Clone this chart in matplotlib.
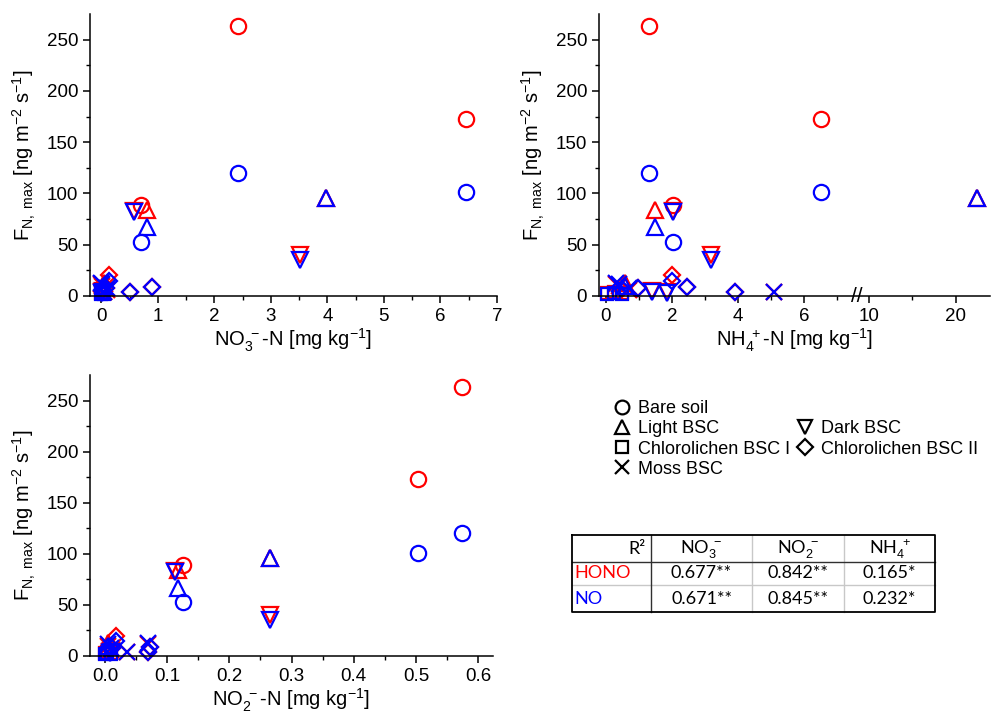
import numpy as np
import matplotlib
matplotlib.use("Agg")
from matplotlib import pyplot as plt
from matplotlib import transforms as mtrans
from matplotlib.lines import Line2D

plt.rcParams['font.family'] = ['Liberation Sans', 'DejaVu Sans']
plt.rcParams['mathtext.fontset'] = 'custom'
plt.rcParams['mathtext.rm'] = 'Liberation Sans'
plt.rcParams['mathtext.it'] = 'Liberation Sans:italic'
plt.rcParams['mathtext.bf'] = 'Liberation Sans:bold'

# samples: soil type, NO3-N, NO2-N, NH4-N [mg/kg], HONO and NO flux [ng m-2 s-1]
soil_type = ['Bare soil', 'Bare soil', 'Bare soil',
             'Light BSC', 'Light BSC', 'Light BSC',
             'Dark BSC', 'Dark BSC', 'Dark BSC', 'Dark BSC',
             'Chlorolichen BSC I', 'Chlorolichen BSC I', 'Chlorolichen BSC I',
             'Chlorolichen BSC II', 'Chlorolichen BSC II', 'Chlorolichen BSC II', 'Chlorolichen BSC II',
             'Moss BSC', 'Moss BSC', 'Moss BSC', 'Moss BSC']
no3 = [2.42, 6.45, 0.71, 3.98, 0.81, 0.05, 0.57, 3.52, 0.03, 0.02,
       0.0, 0.02, 0.05, 0.50, 0.90, 0.13, 0.08, 0.0, 0.05, 0.02, 0.10]
no2 = [0.574, 0.503, 0.126, 0.266, 0.118, 0.005, 0.112, 0.266, 0.010, 0.008,
       0.0, 0.004, 0.010, 0.070, 0.072, 0.018, 0.012, 0.070, 0.035, 0.005, 0.010]
nh4 = [1.30, 6.50, 2.03, 22.5, 1.48, 0.60, 2.03, 3.18, 1.40, 1.85,
       0.05, 0.25, 0.50, 3.90, 2.45, 2.00, 0.97, 0.30, 5.10, 0.40, 0.70]
hono = [263, 173, 89, 96, 84, 13, 83, 40, 5, 4,
        3, 4, 3, 4, 9, 20, 8, 12, 4, 10, 6]
no = [120, 101, 53, 96, 67, 10, 82, 35, 4, 3,
      2, 3, 2, 4, 9, 15, 8, 13, 4, 12, 8]

markers = {'Bare soil': 'o', 'Light BSC': '^', 'Chlorolichen BSC I': 's',
           'Moss BSC': 'x', 'Dark BSC': 'v', 'Chlorolichen BSC II': 'D'}
msizes = {'o': 11, '^': 11, 's': 9, 'x': 11, 'v': 11, 'D': 8.5}

r2_cols = ['NO$_3^{\\ -}$', 'NO$_2^{\\ -}$', 'NH$_4^{\\ +}$']
r2_hono = ['0.677**', '0.842**', '0.165*']
r2_no = ['0.671**', '0.845**', '0.232*']

RED = '#ff0000'
BLUE = '#0000ff'
W, H = 992, 713
fig = plt.figure(figsize=(W / 100, H / 100), dpi=100)


def px_axes(x0, x1, y0, y1):
    return fig.add_axes([x0 / W, 1 - y1 / H, (x1 - x0) / W, (y1 - y0) / H])


def scatter(ax, xs):
    for vals, col in ((hono, RED), (no, BLUE)):
        for t, x, y in zip(soil_type, xs, vals):
            m = markers[t]
            ax.plot(x, y, linestyle='none', marker=m, markersize=msizes[m],
                    markerfacecolor='none', markeredgecolor=col,
                    markeredgewidth=1.6, clip_on=False)


def style(ax):
    for s in ('top', 'right'):
        ax.spines[s].set_visible(False)
    for s in ('left', 'bottom'):
        ax.spines[s].set_linewidth(1.1)
    ax.tick_params(which='major', direction='out', length=5, width=1.1, labelsize=13.5)
    ax.tick_params(which='minor', direction='out', length=3, width=1.0)
    ax.set_ylim(0, 275)
    ax.set_yticks([0, 50, 100, 150, 200, 250])
    ax.set_yticks(np.arange(25, 275, 50), minor=True)
    ax.set_ylabel('F$_{\\mathrm{N,\\ max}}$ [ng m$^{-2}$ s$^{-1}$]', fontsize=14.5, labelpad=6)


# panel 1: nitrate
ax1 = px_axes(90, 497, 14, 296)
scatter(ax1, no3)
style(ax1)
ax1.set_xlim(-0.2, 7)
ax1.set_xticks(range(0, 8))
ax1.set_xticks(np.arange(0.5, 7, 1), minor=True)
ax1.set_xlabel('NO$_3^{\\ -}$-N [mg kg$^{-1}$]', fontsize=14.5, labelpad=1)

# panel 2: ammonium, broken x axis
def fwd(x):
    x = np.asarray(x, dtype=float)
    return np.where(x <= 7.6, x,
                    np.where(x <= 8.6, 7.6 + (x - 7.6) * 0.005,
                             7.605 + (x - 8.6) * 0.2606))


def inv(y):
    y = np.asarray(y, dtype=float)
    return np.where(y <= 7.6, y,
                    np.where(y <= 7.605, 7.6 + (y - 7.6) / 0.005,
                             8.6 + (y - 7.605) / 0.2606))


ax2 = px_axes(599, 990, 14, 296)
ax2.set_xscale('function', functions=(fwd, inv))
scatter(ax2, nh4)
style(ax2)
ax2.set_xlim(-0.2, 24)
ax2.set_xticks([0, 2, 4, 6, 10, 20])
ax2.set_xticks([1, 3, 5, 7, 15], minor=True)
ax2.set_xlabel('NH$_4^{\\ +}$-N [mg kg$^{-1}$]', fontsize=14.5, labelpad=1)
brk = mtrans.blended_transform_factory(ax2.transData, ax2.transAxes)
ax2.text(8.1, 0.0, '//', transform=brk, ha='center', va='center',
         fontsize=15, color='black')

# panel 3: nitrite
ax3 = px_axes(90, 493, 375, 656)
scatter(ax3, no2)
style(ax3)
ax3.set_xlim(-0.024, 0.624)
ax3.set_xticks(np.arange(0, 0.61, 0.1))
ax3.set_xticks(np.arange(0.05, 0.62, 0.1), minor=True)
ax3.xaxis.set_major_formatter(matplotlib.ticker.FormatStrFormatter('%.1f'))
ax3.set_xlabel('NO$_2^{\\ -}$-N [mg kg$^{-1}$]', fontsize=14.5, labelpad=1)

# legend
handles = []
labels = []
order = ['Bare soil', 'Light BSC', 'Chlorolichen BSC I', 'Moss BSC',
         None, 'Dark BSC', 'Chlorolichen BSC II', None]
for t in order:
    if t is None:
        handles.append(Line2D([], [], linestyle='none'))
        labels.append('')
    else:
        m = markers[t]
        handles.append(Line2D([], [], linestyle='none', marker=m,
                              markersize=msizes[m] * 0.9, markerfacecolor='none',
                              markeredgecolor='black', markeredgewidth=1.6))
        labels.append(t)
fig.legend(handles, labels, ncol=2, frameon=False, fontsize=13,
           loc='upper left', bbox_to_anchor=(606 / W, 1 - 391 / H),
           handlelength=0.8, handletextpad=0.5, columnspacing=0.4,
           labelspacing=0.18, borderpad=0)

# R2 table
tab = fig.add_axes([0, 0, 1, 1])
tab.set_xlim(0, W)
tab.set_ylim(H, 0)
tab.axis('off')
cx = [572, 651, 752, 844, 935]
ry = [535, 562, 585, 612]
gray = '#c8c8c8'
for x in cx[2:4]:
    tab.plot([x, x], [ry[0], ry[-1]], color=gray, lw=1.0)
tab.plot([cx[0], cx[-1]], [ry[2], ry[2]], color=gray, lw=1.0)
tab.plot([cx[1], cx[1]], [ry[0], ry[-1]], color='#303030', lw=1.0)
tab.plot([cx[0], cx[-1]], [ry[1], ry[1]], color='#303030', lw=1.0)
tab.plot([cx[0], cx[-1], cx[-1], cx[0], cx[0]],
         [ry[0], ry[0], ry[-1], ry[-1], ry[0]], color='black', lw=1.3)
tfont = ['Lato', 'DejaVu Sans']
fs = 13
tab.text(cx[1] - 6, (ry[0] + ry[1]) / 2, 'R²', ha='right', va='center',
         fontsize=fs, family=tfont)
for i, c in enumerate(r2_cols):
    xm = (cx[i + 1] + cx[i + 2]) / 2
    tab.text(xm, (ry[0] + ry[1]) / 2 + 1, c, ha='center', va='center',
             fontsize=fs, family=tfont)
    tab.text(xm, (ry[1] + ry[2]) / 2, r2_hono[i], ha='center', va='center',
             fontsize=fs, family=tfont)
    tab.text(xm, (ry[2] + ry[3]) / 2, r2_no[i], ha='center', va='center',
             fontsize=fs, family=tfont)
tab.text(cx[0] + 2, (ry[1] + ry[2]) / 2, 'HONO', ha='left', va='center',
         fontsize=fs, color=RED, family=tfont)
tab.text(cx[0] + 2, (ry[2] + ry[3]) / 2, 'NO', ha='left', va='center',
         fontsize=fs, color=BLUE, family=tfont)

fig.savefig('out.png', dpi=100)
